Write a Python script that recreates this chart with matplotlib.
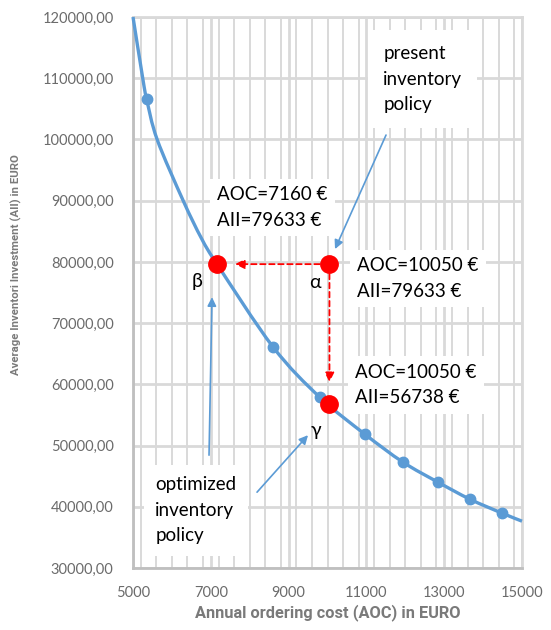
import matplotlib
matplotlib.use('Agg')
import numpy as np
import matplotlib.pyplot as plt
from matplotlib.path import Path
from matplotlib.patches import PathPatch
from matplotlib.ticker import MultipleLocator, FuncFormatter

# Curva AOC / AII (leída punto a punto) y puntos calculados
aoc_curve = [5000, 5250, 5350, 5620, 6290, 6760, 7160, 8600,
             9800, 10960, 11940, 12840, 13660, 14490, 15000]
aii_curve = [120000, 110000, 106600, 100000, 90000, 83840, 79633, 66100,
             57900, 51860, 47290, 44020, 41240, 38950, 37650]
aoc_pts = [5350, 8600, 9800, 10960, 11940, 12840, 13660, 14490]
aii_pts = [106600, 66100, 57900, 51860, 47290, 44020, 41240, 38950]

# Políticas: alfa (actual), beta y gamma (optimizadas)
alpha = (10050, 79633)
beta = (7160, 79633)
gamma = (10050, 56738)

blue = '#5B9BD5'
grid_c = '#d9d9d9'
tick_c = '#6b6b6b'
label_c = '#7a7a7a'


def smooth_path(xs, ys):
    """Línea suavizada tipo Excel: segmentos Bézier (Catmull-Rom) que pasan por los puntos."""
    p = np.column_stack([xs, ys]).astype(float)
    verts = [p[0]]
    codes = [Path.MOVETO]
    n = len(p)
    for i in range(n - 1):
        p0 = p[i - 1] if i > 0 else p[i]
        p3 = p[i + 2] if i + 2 < n else p[i + 1]
        c1 = p[i] + (p[i + 1] - p0) / 6.0
        c2 = p[i + 1] - (p3 - p[i]) / 6.0
        verts += [c1, c2, p[i + 1]]
        codes += [Path.CURVE4] * 3
    return Path(verts, codes)


plt.rcParams['font.family'] = ['Lato', 'DejaVu Sans']

fig = plt.figure(figsize=(5.51, 6.30), dpi=100)
ax = fig.add_axes([0.2414, 0.0984, 0.706, 0.8746])

ax.set_xlim(5000, 15000)
ax.set_ylim(30000, 120000)
ax.set_xticks(range(5000, 15001, 2000))
ax.xaxis.set_minor_locator(MultipleLocator(400))
ax.yaxis.set_major_locator(MultipleLocator(10000))
ax.yaxis.set_major_formatter(FuncFormatter(lambda v, p: f'{v:.2f}'.replace('.', ',')))
ax.xaxis.set_major_formatter(FuncFormatter(lambda v, p: f'{v:.0f}'))

ax.grid(True, which='major', color=grid_c, linewidth=2.0, zorder=0)
ax.grid(True, which='minor', axis='x', color=grid_c, linewidth=1.4, zorder=0)
ax.set_axisbelow(True)
for s in ax.spines.values():
    s.set_color(grid_c)
    s.set_linewidth(2.0)
ax.spines['left'].set_color('#bfbfbf')
ax.spines['bottom'].set_color('#bfbfbf')

ax.tick_params(which='both', length=0)
ax.tick_params(axis='y', pad=14, labelsize=10.5, labelcolor=tick_c)
ax.tick_params(axis='x', pad=13, labelsize=10.5, labelcolor=tick_c)

ax.set_xlabel('Annual ordering cost (AOC) in EURO', fontsize=11.8, fontweight='bold',
              family='Roboto', color=label_c, labelpad=3)
ax.set_ylabel('Average Inventori Investment (AII) in EURO', fontsize=8.2, fontweight='bold',
              family='Roboto', color=label_c)
ax.yaxis.set_label_coords(-0.285, 0.55)

# Curva suavizada y marcadores
ax.add_patch(PathPatch(smooth_path(aoc_curve, aii_curve), facecolor='none', edgecolor=blue,
                       linewidth=2.4, zorder=3, clip_on=False))
ax.plot(aoc_pts, aii_pts, 'o', color=blue, markersize=7.5, zorder=4)

# Flechas rojas discontinuas alfa -> beta y alfa -> gamma
red_arrow = dict(arrowstyle='-|>', color='red', linestyle=(0, (3, 2)), linewidth=1.3,
                 mutation_scale=14, shrinkA=7, shrinkB=0)
ax.annotate('', xy=(7622, alpha[1]), xytext=alpha, arrowprops=red_arrow, zorder=5)
ax.annotate('', xy=(alpha[0], 60360), xytext=alpha, arrowprops=red_arrow, zorder=5)

for p in (alpha, beta, gamma):
    ax.plot(*p, 'o', color='red', markersize=12.5, zorder=6)

# Flechas azules de las etiquetas
blue_arrow = dict(arrowstyle='-|>', color=blue, linewidth=1.2, mutation_scale=13,
                  shrinkA=0, shrinkB=0)
ax.annotate('', xy=(10193, 82092), xytext=(11504, 100719), arrowprops=blue_arrow, zorder=5)
ax.annotate('', xy=(7031, 74248), xytext=(6954, 48431), arrowprops=blue_arrow, zorder=5)
ax.annotate('', xy=(9499, 51699), xytext=(8188, 42386), arrowprops=blue_arrow, zorder=5)

box = dict(facecolor='white', edgecolor='none', boxstyle='square,pad=0.4')
tsize = 13.5
lsp = 1.62
ax.text(7160, 88870, 'AOC=7160 €\nAII=79633 €', fontsize=tsize, va='center', ha='left',
        linespacing=lsp, bbox=box, zorder=7)
ax.text(10760, 77270, 'AOC=10050 €\nAII=79633 €', fontsize=tsize, va='center', ha='left',
        linespacing=lsp, bbox=box, zorder=7)
ax.text(10710, 59870, 'AOC=10050 €\nAII=56738 €', fontsize=tsize, va='center', ha='left',
        linespacing=lsp, bbox=box, zorder=7)
ax.text(11430, 109870, 'present\ninventory\npolicy', fontsize=tsize, va='center', ha='left',
        linespacing=lsp, bbox=dict(facecolor='white', edgecolor='none',
                                   boxstyle='square,pad=0.8'), zorder=7)
ax.text(5570, 39440, 'optimized\ninventory\npolicy', fontsize=tsize, va='center', ha='left',
        linespacing=lsp, bbox=dict(facecolor='white', edgecolor='none',
                                   boxstyle='square,pad=0.6'), zorder=7)

ax.text(6645, 76860, 'β', fontsize=14, ha='center', va='center', zorder=7)
ax.text(9680, 76700, 'α', fontsize=14, ha='center', va='center', zorder=7)
ax.text(9700, 52520, 'γ', fontsize=14, ha='center', va='center', zorder=7)

fig.savefig('out.png', dpi=100)
